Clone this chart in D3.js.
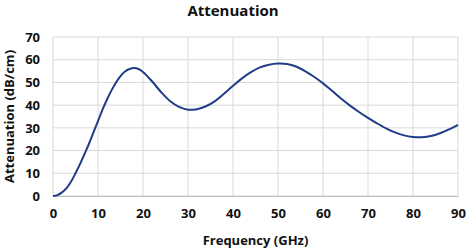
<!DOCTYPE html>
<html><head><meta charset="utf-8">
<script src="https://cdn.jsdelivr.net/npm/d3@7"></script>
<style>body{margin:0;background:#fff}svg{display:block}text{font-family:"Open Sans",sans-serif;font-weight:bold;fill:#111}</style>
</head><body><svg id="c" width="467" height="250"></svg>
<script>
const freq = [0,1,2,3,4,5,6,7,8,9,10,11,12,13,14,15,16,17,18,19,20,22,24,26,28,30,32,34,36,38,40,42,44,46,48,50,52,54,56,58,60,62,64,66,68,70,72,74,76,78,80,82,84,86,88,90];
const atten = [0,0.4,1.6,3.5,6.3,10,14,18.5,23,28,33,38,42.5,46.5,50,52.8,54.8,55.9,56.3,55.9,54.6,50.5,45.8,41.8,39.2,38,38.2,39.5,41.8,45,48.5,51.8,54.5,56.6,57.8,58.3,58.1,57,55,52.5,49.6,46.3,42.9,39.8,37,34.4,32,29.8,28,26.7,26,25.9,26.4,27.6,29.3,31.3];
const xTicks = [0,10,20,30,40,50,60,70,80,90];
const yTicks = [0,10,20,30,40,50,60,70];
const title = "Attenuation", xTitle = "Frequency (GHz)", yTitle = "Attenuation (dB/cm)";

const svg = d3.select("#c");
const L=53,R=458,T=37,B=196;
const x = d3.scaleLinear().domain([0,90]).range([L,R]);
const y = d3.scaleLinear().domain([0,70]).range([B,T]);

const g = svg.append("g");
g.selectAll(".gx").data(xTicks).join("line").attr("x1",d=>x(d)).attr("x2",d=>x(d)).attr("y1",T).attr("y2",B).attr("stroke","#d9d9d9").attr("stroke-width",1);
g.selectAll(".gy").data(yTicks).join("line").attr("x1",L).attr("x2",R).attr("y1",d=>y(d)).attr("y2",d=>y(d)).attr("stroke","#d9d9d9").attr("stroke-width",1);

const xa = svg.append("g").attr("transform",`translate(0,${B})`).call(d3.axisBottom(x).tickValues(xTicks).tickSize(0).tickPadding(13));
xa.select(".domain").attr("stroke","#bfbfbf");
xa.selectAll("text").attr("font-size",13).attr("font-family","Open Sans").attr("font-weight","bold").attr("fill","#111");
const ya = svg.append("g").attr("transform",`translate(${L},0)`).call(d3.axisLeft(y).tickValues(yTicks).tickSize(0).tickPadding(13));
ya.select(".domain").remove();
ya.selectAll("text").attr("font-size",13).attr("font-family","Open Sans").attr("font-weight","bold").attr("fill","#111");

const data = freq.map((f,i)=>[f,atten[i]]);
svg.append("path").datum(data).attr("fill","none").attr("stroke","#1f3c88").attr("stroke-width",2)
  .attr("d",d3.line().x(d=>x(d[0])).y(d=>y(d[1])).curve(d3.curveCatmullRom));

svg.append("text").attr("x",233).attr("y",16).attr("text-anchor","middle").attr("font-size",15).text(title);
svg.append("text").attr("x",(L+R)/2).attr("y",245).attr("text-anchor","middle").attr("font-size",13).text(xTitle);
svg.append("text").attr("transform",`translate(14,${(T+B)/2}) rotate(-90)`).attr("text-anchor","middle").attr("font-size",13).text(yTitle);
</script></body></html>
